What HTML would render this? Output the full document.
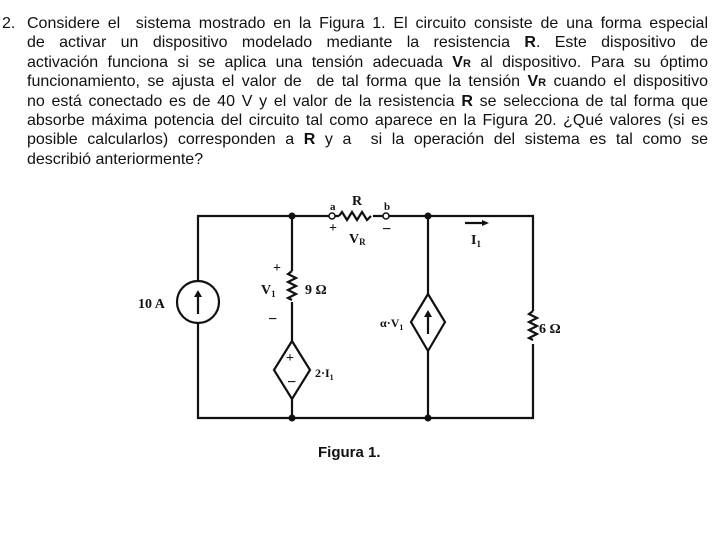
<!DOCTYPE html>
<html><head><style>
body{margin:0;width:720px;height:538px;background:#fff;position:relative;overflow:hidden}
.t{position:absolute;left:0;top:14px;font-family:"Liberation Sans",sans-serif;font-size:16px;line-height:19.4px;color:#111}
.l{position:absolute;left:27px;width:681px;text-align:justify;text-align-last:justify;white-space:nowrap}
.l.last{text-align-last:left}
svg{position:absolute;left:0;top:0}
</style></head><body>
<div class="t">
<div style="position:absolute;left:2px;top:0">2.</div>
<div class="l" style="top:0">Considere el &nbsp;sistema mostrado en la Figura 1. El circuito consiste de una forma especial</div>
<div class="l" style="top:19.4px">de activar un dispositivo modelado mediante la resistencia <b>R</b>. Este dispositivo de</div>
<div class="l" style="top:38.8px">activación funciona si se aplica una tensión adecuada <b>V<span style="font-size:11px">R</span></b> al dispositivo. Para su óptimo</div>
<div class="l" style="top:58.2px">funcionamiento, se ajusta el valor de &nbsp;de tal forma que la tensión <b>V<span style="font-size:11px">R</span></b> cuando el dispositivo</div>
<div class="l" style="top:77.6px">no está conectado es de 40 V y el valor de la resistencia <b>R</b> se selecciona de tal forma que</div>
<div class="l" style="top:97px">absorbe máxima potencia del circuito tal como aparece en la Figura 20. ¿Qué valores (si es</div>
<div class="l" style="top:116.4px">posible calcularlos) corresponden a <b>R</b> y a &nbsp;si la operación del sistema es tal como se</div>
<div class="l last" style="top:135.8px">describió anteriormente?</div>
</div>
<svg width="720" height="538" font-family="Liberation Serif,serif" font-weight="bold" fill="#111">
<g stroke="#111" stroke-width="2.2" fill="none">
<path d="M198 281V216H329M335 216H339M373 216H383M389 216H533V311M533 344V418H198V323"/>
<path d="M292 216V271M292 302V341M292 399V418M428 216V294M428 351V418"/>
<circle cx="198" cy="302" r="21"/>
<path d="M339 216l3-4 5 8 5-8 5 8 5-8 5 8 4-4"/>
<path d="M292 271l-4 3 8 4-8 4 8 4-8 4 8 4-8 4 4 2"/>
<path d="M533 311l-4 3 8 4-8 4 8 4-8 4 8 4-8 4 4 2"/>
<path d="M292 341l18 29-18 29-18-29z"/>
<path d="M428 294l17 28-17 29-17-29z"/>
<path d="M198 314V294M428 334V314M465 223H483"/>
</g>
<circle cx="332" cy="216" r="3" fill="#fff" stroke="#111" stroke-width="1.5"/>
<circle cx="386" cy="216" r="3" fill="#fff" stroke="#111" stroke-width="1.5"/>
<circle cx="292" cy="216" r="3.5"/><circle cx="428" cy="216" r="3.5"/>
<circle cx="292" cy="418" r="3.5"/><circle cx="428" cy="418" r="3.5"/>
<path d="M198 290l-4 7h8z"/><path d="M428 310l-4 7h8z"/><path d="M489 223l-7-3v6z"/>
<g font-size="14">
<text x="138" y="308">10 A</text>
<text x="352" y="205">R</text>
<text x="330" y="210" font-size="11">a</text>
<text x="384" y="210" font-size="11">b</text>
<text x="349" y="243">V<tspan font-size="9" dy="2">R</tspan></text>
<text x="261" y="294">V<tspan font-size="9" dy="3">1</tspan></text>
<text x="305" y="294">9 Ω</text>
<text x="471" y="244">I<tspan font-size="9" dy="3">1</tspan></text>
<text x="539" y="333">6 Ω</text>
<text x="315" y="377" font-size="12">2·I<tspan font-size="8" dy="3">1</tspan></text>
<text x="380" y="327" font-size="12">α·V<tspan font-size="8" dy="3">1</tspan></text>
<text x="329" y="232" font-size="14">+</text>
<text x="382" y="234" font-size="16">−</text>
<text x="273" y="272" font-size="14">+</text>
<text x="268" y="324" font-size="16">−</text>
<text x="286" y="362" font-size="14">+</text>
<text x="287" y="387" font-size="16">−</text>
</g>
<text x="318" y="457" font-family="Liberation Sans,sans-serif" font-size="15">Figura 1.</text>
</svg>
</body></html>
